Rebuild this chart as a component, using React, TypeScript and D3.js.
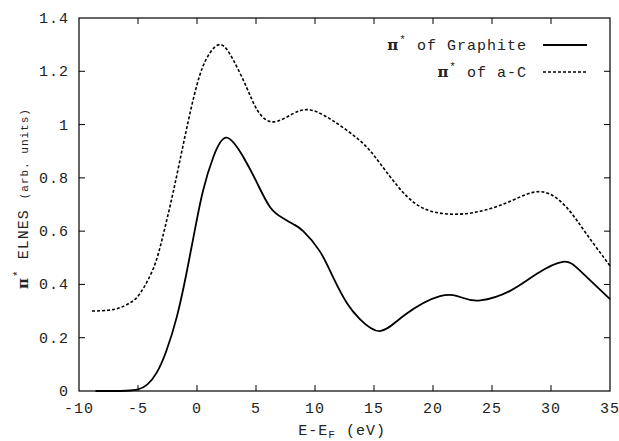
import React from "react";
import * as d3 from "d3";

const xTicks = [-10, -5, 0, 5, 10, 15, 20, 25, 30, 35];
const yTicks = [0, 0.2, 0.4, 0.6, 0.8, 1, 1.2, 1.4];
const yTickLabels = ["0", "0.2", "0.4", "0.6", "0.8", "1", "1.2", "1.4"];

const graphiteX = [-8.6, -7.2, -6.0, -5.0, -4.2, -3.4, -2.6, -1.7, -0.9, -0.2, 0.5, 1.4, 2.5, 3.9, 5.1, 6.2, 7.3, 8.2, 9.0, 10.4, 11.5, 12.7, 13.8, 15.5, 17.6, 20.6, 22.5, 24.0, 26.5, 28.8, 31.0, 32.5, 35.0];
const graphiteY = [0, 0, 0.001, 0.006, 0.025, 0.07, 0.15, 0.28, 0.44, 0.6, 0.75, 0.88, 0.951, 0.88, 0.78, 0.69, 0.648, 0.625, 0.6, 0.525, 0.43, 0.33, 0.27, 0.225, 0.285, 0.356, 0.35, 0.34, 0.375, 0.44, 0.485, 0.45, 0.345];

const acX = [-8.9, -7.5, -6.5, -5.6, -4.8, -3.7, -2.9, -2.0, -1.0, 0.0, 0.9, 2.0, 3.1, 4.2, 5.1, 6.4, 8.1, 9.6, 11.5, 13.8, 15.5, 17.8, 20.0, 22.3, 24.5, 26.8, 29.2, 31.3, 33.0, 35.0];
const acY = [0.3, 0.303, 0.313, 0.333, 0.368, 0.46, 0.58, 0.75, 0.96, 1.15, 1.255, 1.3, 1.24, 1.14, 1.055, 1.01, 1.04, 1.055, 1.015, 0.94, 0.855, 0.73, 0.673, 0.664, 0.68, 0.717, 0.748, 0.69, 0.59, 0.47];

const legendLabels = ["of Graphite", "of a-C"];

const W = 619;
const H = 441;
const left = 79;
const right = 610;
const top = 18;
const bottom = 391;
const mono = "'Liberation Mono', 'DejaVu Sans Mono', monospace";

export default function App() {
  const x = d3.scaleLinear().domain([-10, 35]).range([left, right]);
  const y = d3.scaleLinear().domain([0, 1.4]).range([bottom, top]);
  const line = d3
    .line<[number, number]>()
    .x((d) => x(d[0]))
    .y((d) => Math.min(bottom, y(d[1])))
    .curve(d3.curveNatural);
  const gPts = graphiteX.map((v, i) => [v, graphiteY[i]] as [number, number]);
  const aPts = acX.map((v, i) => [v, acY[i]] as [number, number]);
  const tl = 6;

  return (
    <svg width={W} height={H} style={{ position: "absolute", left: 0, top: 0, background: "#fff" }}>
      <rect x={0} y={0} width={W} height={H} fill="#fff" />
      {xTicks.slice(1, -1).map((t) => (
        <g key={"xt" + t} stroke="#000" strokeWidth={1}>
          <line x1={x(t)} x2={x(t)} y1={bottom} y2={bottom - tl} />
          <line x1={x(t)} x2={x(t)} y1={top} y2={top + tl} />
        </g>
      ))}
      {yTicks.slice(1, -1).map((t) => (
        <g key={"yt" + t} stroke="#000" strokeWidth={1}>
          <line x1={left} x2={left + tl} y1={y(t)} y2={y(t)} />
          <line x1={right} x2={right - tl} y1={y(t)} y2={y(t)} />
        </g>
      ))}
      <rect x={left} y={top} width={right - left} height={bottom - top} fill="none" stroke="#000" strokeWidth={1.2} />
      {xTicks.map((t) => (
        <text key={"xl" + t} x={x(t)} y={bottom + 22} textAnchor="middle" fontFamily={mono} fontSize={15} letterSpacing={1} fill="#222">
          {t}
        </text>
      ))}
      {yTicks.map((t, i) => (
        <text key={"yl" + t} x={left - 10} y={y(t) + 5} textAnchor="end" fontFamily={mono} fontSize={15} letterSpacing={1} fill="#222">
          {yTickLabels[i]}
        </text>
      ))}
      <text x={x(12.3)} y={435} textAnchor="middle" fontFamily={mono} fontSize={15} letterSpacing={1} fill="#222">
        E-E<tspan fontSize={11} dy={3}>F</tspan>
        <tspan dy={-3}> (eV)</tspan>
      </text>
      <g transform={`translate(28, ${(top + bottom) / 2 - 6}) rotate(-90)`}>
        <text x={0} y={0} textAnchor="middle" fontFamily={mono} fontSize={15} letterSpacing={1} fill="#222">
          <tspan fontFamily="'DejaVu Serif', serif" fontWeight="bold">π</tspan>
          <tspan fontSize={11} dy={-7}>*</tspan>
          <tspan dy={7}> ELNES </tspan>
          <tspan fontSize={11}>(arb. units)</tspan>
        </text>
      </g>
      <path d={line(aPts) || ""} fill="none" stroke="#000" strokeWidth={1.6} strokeDasharray="3,2" />
      <path d={line(gPts) || ""} fill="none" stroke="#000" strokeWidth={1.8} />
      {legendLabels.map((lab, i) => {
        const ly = 45 + i * 27;
        return (
          <g key={lab}>
            <text x={527} y={ly + 5} textAnchor="end" fontFamily={mono} fontSize={15} letterSpacing={1} fill="#222">
              <tspan fontFamily="'DejaVu Serif', serif" fontWeight="bold">π</tspan>
              <tspan fontSize={11} dy={-7}>*</tspan>
              <tspan dy={7}> {lab}</tspan>
            </text>
            <line x1={543} x2={587} y1={ly} y2={ly} stroke="#000" strokeWidth={i === 0 ? 1.8 : 1.6} strokeDasharray={i === 0 ? undefined : "3,2"} />
          </g>
        );
      })}
    </svg>
  );
}
